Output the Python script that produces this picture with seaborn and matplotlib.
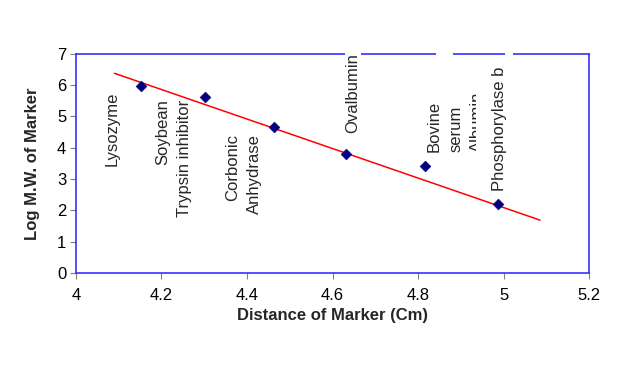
import numpy as np
import pandas as pd
import matplotlib
matplotlib.use("Agg")
import matplotlib.pyplot as plt
import seaborn as sns
from matplotlib.patches import Rectangle

# marker data
distance = [4.152, 4.301, 4.462, 4.632, 4.816, 4.986]
log_mw = [5.98, 5.61, 4.68, 3.80, 3.42, 2.21]

# trendline as drawn in the picture
trend_x = [4.09, 5.085]
trend_y = [6.38, 1.69]

sns.set_style("white")
plt.rcParams["font.family"] = ["Liberation Sans", "DejaVu Sans"]

df = pd.DataFrame({"dist": distance, "logmw": log_mw})
df_trend = pd.DataFrame({"dist": trend_x, "logmw": trend_y})

fig = plt.figure(figsize=(6.17, 3.69), dpi=100)
ax = fig.add_axes([0.123, 0.26, 0.832, 0.594])

sns.lineplot(data=df_trend, x="dist", y="logmw", color="#ff0000", lw=1.1, ax=ax, zorder=2)
sns.scatterplot(data=df, x="dist", y="logmw", marker="D", s=30, color="#000080",
                edgecolor="#000080", ax=ax, zorder=3)

ax.set_xlim(4, 5.2)
ax.set_ylim(0, 7)
ax.set_xticks(np.arange(4, 5.21, 0.2))
ax.set_xticklabels(["4", "4.2", "4.4", "4.6", "4.8", "5", "5.2"])
ax.set_yticks(range(0, 8))
ax.tick_params(axis="both", direction="out", length=4, width=0.8, color="#808080",
               labelsize=12, labelcolor="black", pad=3, bottom=True, left=True)
ax.tick_params(axis="x", pad=7)

for sp in ax.spines.values():
    sp.set_color("#3333ff")
    sp.set_linewidth(1.2)

ax.set_xlabel("Distance of Marker (Cm)", fontsize=12, fontweight="bold", labelpad=3)
ax.set_ylabel("Log M.W. of Marker", fontsize=12, fontweight="bold", labelpad=12)

# protein names, vertical
txt = dict(rotation=90, fontsize=12, linespacing=1.55, zorder=6)
ax.text(4.084, 5.78, "Lysozyme", ha="center", va="top", **txt)
ax.text(4.229, 5.55, "Soybean\nTrypsin inhibitor", ha="center", va="top",
        multialignment="right", **txt)
ax.text(4.392, 4.43, "Corbonic\nAnhydrase", ha="center", va="top",
        multialignment="right", **txt)
ax.text(4.648, 7.03, "Ovalbumin", ha="center", va="top", clip_on=False,
        bbox=dict(facecolor="white", edgecolor="none", pad=0.5), **txt)
bsa = ax.text(4.888, 3.87, "Bovine\nserum\nAlbumin", ha="center", va="bottom",
              multialignment="left", clip_on=True, **txt)
clip = Rectangle((4.0, 0), 0.935, 7, transform=ax.transData, visible=False)
ax.add_patch(clip)
bsa.set_clip_path(clip)
ax.text(4.99, 6.6, "Phosphorylase b", ha="center", va="top", **txt)

# white breaks in the top border where the label boxes overlap it
for xc, half in [(4.648, 0.008), (4.862, 0.015), (5.012, 0.005)]:
    ax.plot([xc - half, xc + half], [7, 7], color="white", lw=3, clip_on=False, zorder=5)

fig.savefig("out.png", dpi=100)
